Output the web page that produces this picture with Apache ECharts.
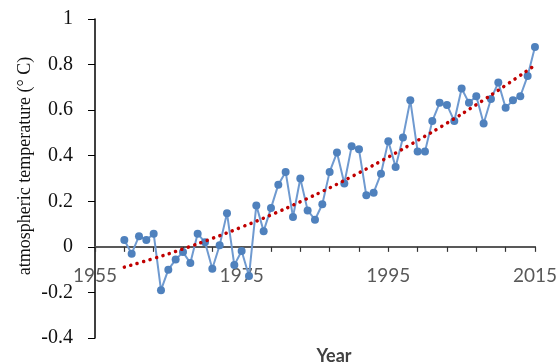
<!DOCTYPE html>
<html>
<head>
<meta charset="utf-8">
<script src="https://cdn.jsdelivr.net/npm/echarts@6/dist/echarts.min.js"></script>
<style>
  html, body { margin: 0; padding: 0; background: #fff; }
  #chart { width: 560px; height: 364px; }
</style>
</head>
<body>
<div id="chart"></div>
<script>
// 年份与温度数据
const years = [
  1959, 1960, 1961, 1962, 1963, 1964, 1965, 1966, 1967, 1968,
  1969, 1970, 1971, 1972, 1973, 1974, 1975, 1976, 1977, 1978,
  1979, 1980, 1981, 1982, 1983, 1984, 1985, 1986, 1987, 1988,
  1989, 1990, 1991, 1992, 1993, 1994, 1995, 1996, 1997, 1998,
  1999, 2000, 2001, 2002, 2003, 2004, 2005, 2006, 2007, 2008,
  2009, 2010, 2011, 2012, 2013, 2014, 2015
];
const temps = [
  0.03, -0.03, 0.047, 0.03, 0.058, -0.19, -0.1, -0.056, -0.023, -0.071,
  0.058, 0.02, -0.096, 0.007, 0.148, -0.08, -0.018, -0.128, 0.182, 0.069,
  0.17, 0.273, 0.329, 0.131, 0.3, 0.16, 0.119, 0.187, 0.329, 0.414,
  0.278, 0.441, 0.428, 0.226, 0.238, 0.321, 0.464, 0.35, 0.48, 0.643,
  0.418, 0.418, 0.552, 0.632, 0.623, 0.552, 0.695, 0.632, 0.661, 0.541,
  0.649, 0.721, 0.61, 0.643, 0.661, 0.75, 0.877
];

// 趋势线
const trendYears = [1959, 1963, 1967, 1971, 1975, 1979, 1983, 1987, 1991, 1995, 1999, 2003, 2007, 2011, 2015];
const trendValues = [-0.089, -0.051, -0.009, 0.037, 0.087, 0.14, 0.198, 0.259, 0.325, 0.394, 0.467, 0.543, 0.624, 0.709, 0.797];

// 坐标轴
const xMin = 1955, xMax = 2015, xStep = 20, xTickStep = 4;
const yMin = -0.4, yMax = 1, yStep = 0.2;

const gridTop = 19, gridBottom = 26;
const plotH = 364 - gridTop - gridBottom;
// x轴放在 y=0 处
const zeroShift = -plotH * (0 - yMin) / (yMax - yMin);

const chart = echarts.init(document.getElementById("chart"));

const xLine = { onZero: false, lineStyle: { color: "#595959", width: 2 } };

const option = {
  animation: false,
  backgroundColor: "#fff",
  grid: { left: 95, right: 21, top: gridTop, bottom: gridBottom },
  xAxis: [
    {
      type: "value",
      min: xMin,
      max: xMax,
      interval: xStep,
      offset: zeroShift,
      axisLine: xLine,
      axisTick: { show: false },
      axisLabel: {
        margin: 20,
        color: "#595959",
        fontFamily: "Lato",
        fontSize: 19,
        formatter: (v) => String(v),
      },
      splitLine: { show: false },
    },
    // 刻度线 (every 4 years)
    {
      type: "value",
      position: "bottom",
      min: xMin,
      max: xMax,
      interval: xTickStep,
      offset: zeroShift,
      axisLine: xLine,
      axisTick: { show: true, inside: false, length: 5, lineStyle: { color: "#333", width: 1.2 } },
      axisLabel: { show: false },
      splitLine: { show: false },
    },
  ],
  yAxis: {
    type: "value",
    min: yMin,
    max: yMax,
    interval: yStep,
    axisLine: { show: true, onZero: false, lineStyle: { color: "#000", width: 1.5 } },
    axisTick: { show: true, length: 7, lineStyle: { color: "#000", width: 1 } },
    axisLabel: {
      margin: 22,
      color: "#111",
      fontFamily: "Liberation Serif",
      fontSize: 20,
      formatter: (v) => String(Math.round(v * 10) / 10),
    },
    splitLine: { show: false },
  },
  graphic: [
    {
      type: "text",
      x: 25,
      y: 166,
      rotation: Math.PI / 2,
      style: {
        text: "atmospheric temperature (° C)",
        font: "18px 'Liberation Serif'",
        fill: "#111",
        align: "center",
        verticalAlign: "middle",
      },
    },
    {
      type: "text",
      x: 334,
      y: 347,
      style: {
        text: "Year",
        font: "bold 18px Lato",
        fill: "#404040",
        align: "center",
        verticalAlign: "top",
      },
    },
  ],
  series: [
    {
      name: "temperature",
      type: "line",
      data: years.map((y, i) => [y, temps[i]]),
      symbol: "circle",
      symbolSize: 8,
      itemStyle: { color: "#4F81BD" },
      lineStyle: { color: "#6F9AD0", width: 2 },
      z: 2,
    },
    {
      name: "trend",
      type: "line",
      data: trendYears.map((y, i) => [y, trendValues[i]]),
      smooth: true,
      symbol: "none",
      lineStyle: { color: "#C00000", width: 3.5, type: [0.1, 6.6], cap: "round" },
      z: 3,
    },
  ],
};

chart.setOption(option);
</script>
</body>
</html>
